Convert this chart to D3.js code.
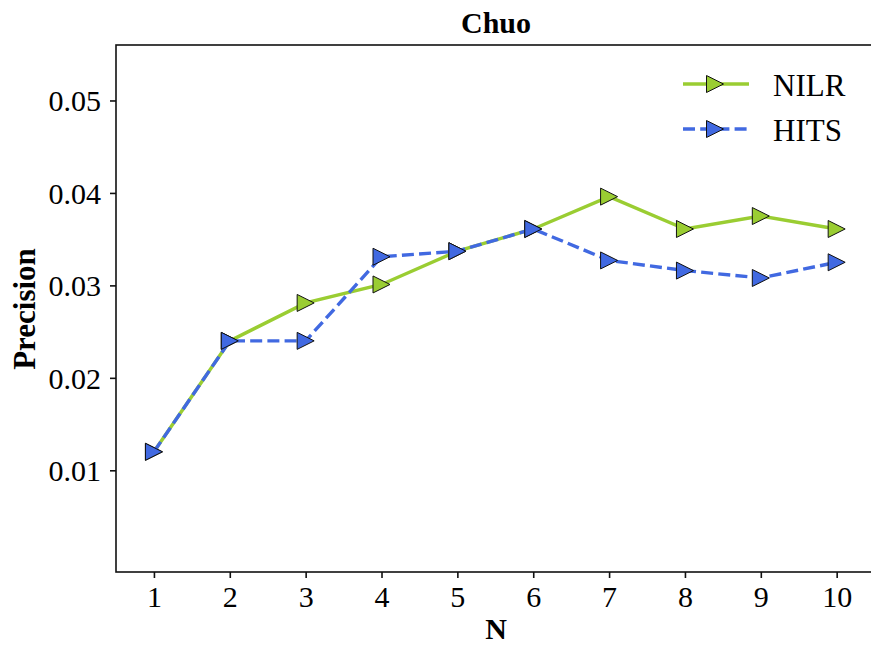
<!DOCTYPE html>
<html lang="en">
<head>
  <meta charset="utf-8">
  <script src="https://d3js.org/d3.v7.min.js"></script>
  <style>
    body { margin: 0; background: #fff; }
    text { font-family: "Liberation Serif", "Times New Roman", serif; fill: #000; }
  </style>
</head>
<body>
<script>
  var width = 871;
  var height = 646;

  // data
  var nValues = [1, 2, 3, 4, 5, 6, 7, 8, 9, 10];
  var nilr = [0.012, 0.024, 0.0281, 0.0301, 0.0337, 0.0361, 0.0396, 0.0361, 0.0375, 0.0361];
  var hits = [0.012, 0.024, 0.024, 0.0331, 0.0337, 0.0361, 0.0327, 0.0316, 0.0308, 0.0325];
  var yTicks = [0.01, 0.02, 0.03, 0.04, 0.05];
  var seriesNames = ["NILR", "HITS"];

  // plot box (window.top is reserved, so no "top" here)
  var plotLeft = 116, plotRight = 874.6, plotTop = 45, plotBottom = 572;

  var svg = d3.select("body").append("svg")
    .attr("width", width)
    .attr("height", height);

  var x = d3.scaleLinear().domain([0.5, 10.5]).range([plotLeft, plotRight]);
  var y = d3.scaleLinear().domain([-0.001, 0.056]).range([plotBottom, plotTop]);

  // frame
  svg.append("rect")
    .attr("x", plotLeft).attr("y", plotTop)
    .attr("width", plotRight - plotLeft).attr("height", plotBottom - plotTop)
    .attr("fill", "none").attr("stroke", "#111").attr("stroke-width", 1.6);

  // x axis
  var xAxis = d3.axisBottom(x).tickValues(nValues).tickSize(6).tickPadding(8).tickFormat(d3.format("d"));
  var gx = svg.append("g").attr("transform", "translate(0," + plotBottom + ")").call(xAxis);
  gx.select(".domain").remove();
  gx.selectAll("line").attr("stroke", "#111").attr("stroke-width", 1.6);
  gx.selectAll("text").style("font-size", "30px").attr("fill", "#000")
    .attr("font-family", "Liberation Serif");

  // y axis
  var yAxis = d3.axisLeft(y).tickValues(yTicks).tickSize(6).tickPadding(9).tickFormat(d3.format(".2f"));
  var gy = svg.append("g").attr("transform", "translate(" + plotLeft + ",0)").call(yAxis);
  gy.select(".domain").remove();
  gy.selectAll("line").attr("stroke", "#111").attr("stroke-width", 1.6);
  gy.selectAll("text").style("font-size", "30px").attr("fill", "#000")
    .attr("font-family", "Liberation Serif").attr("dy", "0.34em");

  // labels
  svg.append("text").attr("x", 496).attr("y", 33).attr("text-anchor", "middle")
    .style("font-size", "30px").style("font-weight", "bold").text("Chuo");
  svg.append("text").attr("x", 496).attr("y", 639).attr("text-anchor", "middle")
    .style("font-size", "30px").style("font-weight", "bold").text("N");
  svg.append("text").attr("transform", "translate(35,309) rotate(-90)").attr("text-anchor", "middle")
    .style("font-size", "31px").style("font-weight", "bold").text("Precision");

  var tri = "M8.5,0 L-8.5,-8.5 L-8.5,8.5 Z";
  var line = d3.line().x(function(d, i) { return x(nValues[i]); }).y(function(d) { return y(d); });

  function drawSeries(vals, color, dash) {
    svg.append("path").datum(vals)
      .attr("d", line)
      .attr("fill", "none")
      .attr("stroke", color)
      .attr("stroke-width", 3.4)
      .attr("stroke-dasharray", dash);
    svg.append("g").selectAll("path").data(vals).enter().append("path")
      .attr("d", tri)
      .attr("transform", function(d, i) { return "translate(" + x(nValues[i]) + "," + y(d) + ")"; })
      .attr("fill", color)
      .attr("stroke", "#111")
      .attr("stroke-width", 1);
  }

  drawSeries(nilr, "#9acd32", null);
  drawSeries(hits, "#4169e1", "12 5.2");

  // legend
  var legend = [
    { name: seriesNames[0], color: "#9acd32", dash: null, y: 84 },
    { name: seriesNames[1], color: "#4169e1", dash: "12 5.2", y: 129 }
  ];
  legend.forEach(function(l) {
    svg.append("line").attr("x1", 683).attr("x2", 749).attr("y1", l.y).attr("y2", l.y)
      .attr("stroke", l.color).attr("stroke-width", 3.4).attr("stroke-dasharray", l.dash);
    svg.append("path").attr("d", tri).attr("transform", "translate(715," + l.y + ")")
      .attr("fill", l.color).attr("stroke", "#111").attr("stroke-width", 1);
    svg.append("text").attr("x", 773).attr("y", l.y + 12).style("font-size", "31px").text(l.name);
  });
</script>
</body>
</html>
